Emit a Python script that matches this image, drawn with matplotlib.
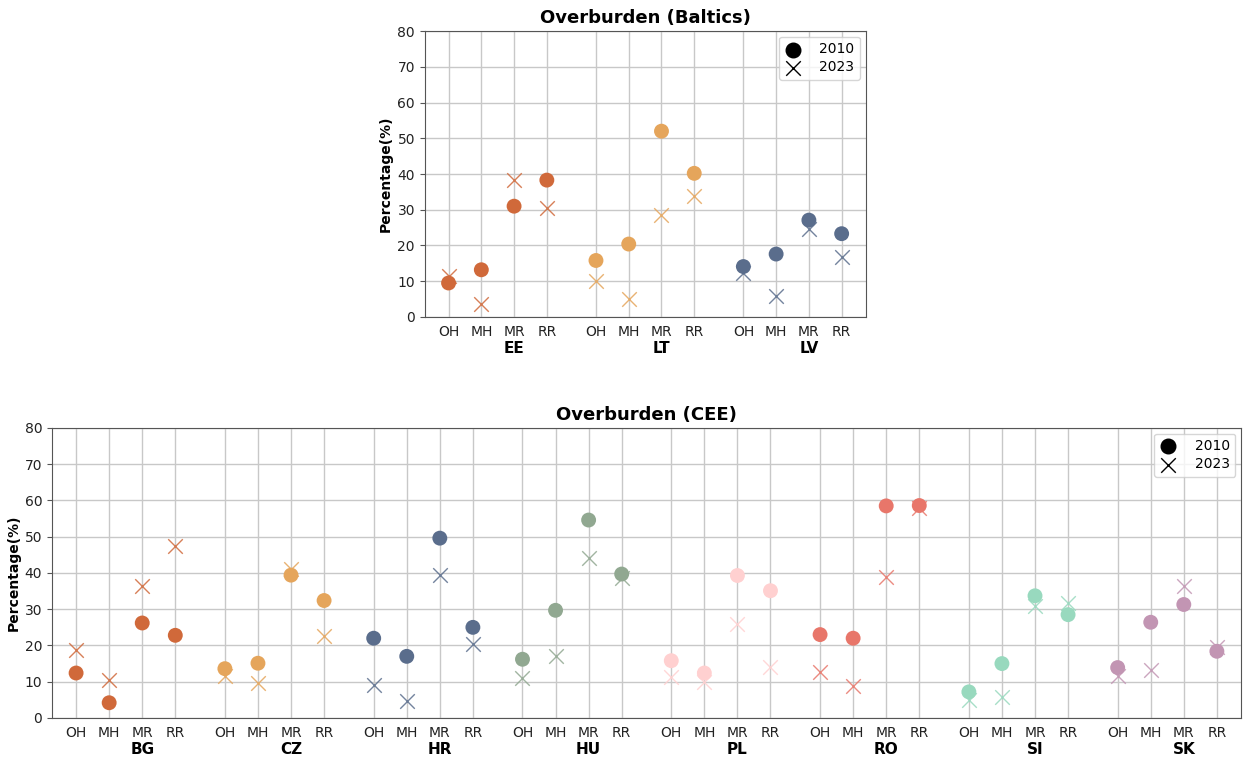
import matplotlib
matplotlib.use("Agg")
import matplotlib.pyplot as plt
import numpy as np

categories = ["OH", "MH", "MR", "RR"]

baltic_countries = ["EE", "LT", "LV"]
baltic_2010 = [
    [9.5, 13.2, 31.0, 38.3],
    [15.8, 20.4, 52.0, 40.2],
    [14.1, 17.6, 27.1, 23.3],
]
baltic_2023 = [
    [11.5, 3.5, 38.2, 30.6],
    [10.0, 5.0, 28.4, 33.8],
    [12.2, 5.9, 24.6, 16.8],
]
baltic_colors = ["#d0693a", "#e5a55b", "#5a6d8c"]

cee_countries = ["BG", "CZ", "HR", "HU", "PL", "RO", "SI", "SK"]
cee_2010 = [
    [12.4, 4.2, 26.2, 22.8],
    [13.6, 15.1, 39.4, 32.4],
    [22.0, 17.0, 49.6, 25.0],
    [16.2, 29.7, 54.6, 39.7],
    [15.8, 12.4, 39.3, 35.1],
    [23.0, 22.0, 58.5, 58.6],
    [7.2, 15.0, 33.7, 28.5],
    [13.9, 26.4, 31.3, 18.4],
]
cee_2023 = [
    [18.8, 10.4, 36.5, 47.4],
    [11.5, 9.6, 41.0, 22.6],
    [9.2, 4.7, 39.5, 20.3],
    [11.0, 17.1, 44.2, 38.5],
    [11.3, 9.9, 25.9, 14.1],
    [12.7, 8.8, 38.9, 57.8],
    [5.0, 5.9, 30.9, 31.6],
    [11.7, 13.2, 36.5, 19.7],
]
cee_colors = ["#d0693a", "#e5a55b", "#5a6d8c", "#91a891",
              "#ffd0d0", "#e8766a", "#98d9be", "#c295b3"]

GROUP_STEP = 4.5


def draw(ax, countries, v2010, v2023, colors, title):
    ticks, labels = [], []
    for g, (c, a, b, col) in enumerate(zip(countries, v2010, v2023, colors)):
        xs = g * GROUP_STEP + np.arange(len(categories))
        ax.scatter(xs, b, marker="x", s=110, color=col, linewidths=1.0,
                   alpha=0.85, zorder=3)
        ax.scatter(xs, a, marker="o", s=115, color=col, edgecolors="none",
                   zorder=4)
        ticks.extend(xs)
        labels.extend(categories)
        ax.annotate(c, xy=(xs[2], 0), xycoords=("data", "axes fraction"),
                    xytext=(0, -17), textcoords="offset points",
                    ha="center", va="top", fontsize=11, fontweight="bold")
    ax.set_xticks(ticks)
    ax.set_xticklabels(labels, fontsize=10, color="#222222")
    ax.tick_params(axis="x", length=0, pad=6)
    ax.tick_params(axis="y", labelsize=10, length=3.5, labelcolor="#222222",
                   color="#555555")
    n = len(countries)
    xmax = (n - 1) * GROUP_STEP + 3
    ax.set_xlim(-0.73, xmax + 0.73)
    ax.set_ylim(0, 80)
    ax.set_yticks(range(0, 81, 10))
    ax.grid(True, color="#c8c8c8", linewidth=1.0, zorder=0)
    ax.set_axisbelow(True)
    ax.set_ylabel("Percentage(%)", fontsize=10, fontweight="bold", labelpad=3)
    ax.set_title(title, fontsize=13, fontweight="bold", pad=6)
    for s in ax.spines.values():
        s.set_color("#555555")
    h1 = ax.scatter([], [], marker="o", s=110, color="black")
    h2 = ax.scatter([], [], marker="x", s=110, color="black", linewidths=1.0)
    ax.legend([h1, h2], ["2010", "2023"], loc="upper right", fontsize=10,
              handlelength=1.2, handletextpad=1.3, borderpad=0.4,
              labelspacing=0.3, borderaxespad=0.4, fancybox=True,
              framealpha=0.8)


fig = plt.figure(figsize=(12.49, 7.6), dpi=100)
ax1 = fig.add_axes([0.340, 0.583, 0.353, 0.376])
ax2 = fig.add_axes([0.0416, 0.0553, 0.952, 0.3816])

draw(ax1, baltic_countries, baltic_2010, baltic_2023, baltic_colors,
     "Overburden (Baltics)")
draw(ax2, cee_countries, cee_2010, cee_2023, cee_colors, "Overburden (CEE)")

fig.savefig("out.png", dpi=100)
